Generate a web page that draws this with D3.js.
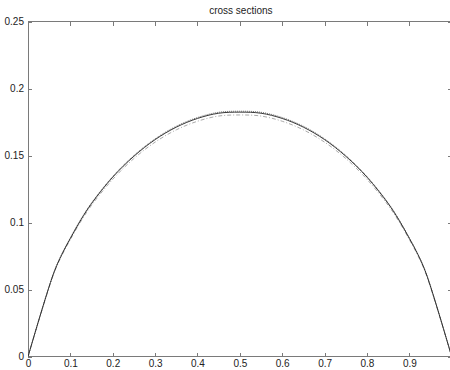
<!DOCTYPE html>
<html><head><meta charset="utf-8">
<script src="https://cdn.jsdelivr.net/npm/d3@7"></script>
<style>
html,body{margin:0;padding:0;background:#fff;overflow:hidden;}
svg{display:block;}
text{font-family:"Liberation Sans",Arial,sans-serif;font-size:10px;fill:#222;}
</style></head>
<body>
<script>
const title = "cross sections";
const xs = [0, 0.06, 0.08, 0.1, 0.125, 0.15, 0.2, 0.25, 0.3, 0.35, 0.4, 0.45, 0.5, 0.55, 0.6, 0.65, 0.7, 0.75, 0.8, 0.85, 0.875, 0.9, 0.92, 0.94, 1.0];
const seriesA = [0, 0.062, 0.0767, 0.0887, 0.1027, 0.1148, 0.1345, 0.1502, 0.1626, 0.1720, 0.1785, 0.1824, 0.1832, 0.1824, 0.1785, 0.1720, 0.1626, 0.1502, 0.1345, 0.1148, 0.1027, 0.0887, 0.0767, 0.062, 0];
const seriesB = [0, 0.0618, 0.0764, 0.0883, 0.1022, 0.1143, 0.1340, 0.1496, 0.1620, 0.1713, 0.1778, 0.1817, 0.1825, 0.1817, 0.1778, 0.1713, 0.1620, 0.1496, 0.1340, 0.1143, 0.1022, 0.0883, 0.0764, 0.0618, 0];
const seriesC = [0, 0.0611, 0.0756, 0.0874, 0.1011, 0.1130, 0.1324, 0.1479, 0.1601, 0.1693, 0.1757, 0.1796, 0.1804, 0.1796, 0.1757, 0.1693, 0.1601, 0.1479, 0.1324, 0.1130, 0.1011, 0.0874, 0.0756, 0.0611, 0];
const xTicks = [0, 0.1, 0.2, 0.3, 0.4, 0.5, 0.6, 0.7, 0.8, 0.9];
const xTickLabels = ["0", "0.1", "0.2", "0.3", "0.4", "0.5", "0.6", "0.7", "0.8", "0.9"];
const yTicks = [0, 0.05, 0.1, 0.15, 0.2, 0.25];
const yTickLabels = ["0", "0.05", "0.1", "0.15", "0.2", "0.25"];

const W = 450, H = 370;
const L = 28, T = 21.7, R = 451.7, B = 356.7;
const svg = d3.select("body").append("svg").attr("width", W).attr("height", H);
const x = d3.scaleLinear().domain([0, 1]).range([L, R]);
const y = d3.scaleLinear().domain([0, 0.25]).range([B, T]);

const axisColor = "#7a7a7a";
svg.append("rect").attr("x", L).attr("y", T).attr("width", R - L).attr("height", B - T)
  .attr("fill", "none").attr("stroke", axisColor).attr("stroke-width", 1).attr("shape-rendering", "crispEdges");

const ax1 = d3.axisBottom(x).tickValues(xTicks).tickSize(-4).tickPadding(3).tickFormat((d, i) => xTickLabels[i]);
const gx = svg.append("g").attr("transform", `translate(0,${B})`).call(ax1);
const ax2 = d3.axisTop(x).tickValues(xTicks).tickSize(-4).tickFormat("");
const gx2 = svg.append("g").attr("transform", `translate(0,${T})`).call(ax2);
const ay1 = d3.axisLeft(y).tickValues(yTicks).tickSize(-4).tickPadding(4).tickFormat((d, i) => yTickLabels[i]);
const gy = svg.append("g").attr("transform", `translate(${L},0)`).call(ay1);
const ay2 = d3.axisRight(y).tickValues(yTicks).tickSize(-4).tickFormat("");
const gy2 = svg.append("g").attr("transform", `translate(${R},0)`).call(ay2);
[gx, gx2, gy, gy2].forEach(a => {
  a.select(".domain").remove();
  a.selectAll(".tick line").attr("stroke", axisColor).attr("shape-rendering", "crispEdges");
  a.selectAll("text").attr("fill", "#222").style("font-family", '"Liberation Sans",Arial,sans-serif').style("font-size", "10px");
});

const line = d3.line().x((d, i) => x(xs[i])).y(d => y(d)).curve(d3.curveCatmullRom.alpha(0.5));
svg.append("clipPath").attr("id", "c").append("rect").attr("x", L).attr("y", T).attr("width", R - L).attr("height", B - T);
const plot = svg.append("g").attr("clip-path", "url(#c)");
plot.append("path").datum(seriesC).attr("d", line).attr("fill", "none").attr("stroke", "#a0a0a0").attr("stroke-width", 0.9).attr("stroke-dasharray", "4,2,1,2");
plot.append("path").datum(seriesA).attr("d", line).attr("fill", "none").attr("stroke", "#666").attr("stroke-width", 0.9).attr("stroke-dasharray", "1,1");
plot.append("path").datum(seriesB).attr("d", line).attr("fill", "none").attr("stroke", "#222").attr("stroke-width", 0.9);

svg.append("text").attr("x", (L + R) / 2 + 1).attr("y", 14).attr("text-anchor", "middle").text(title);
</script>
</body></html>
